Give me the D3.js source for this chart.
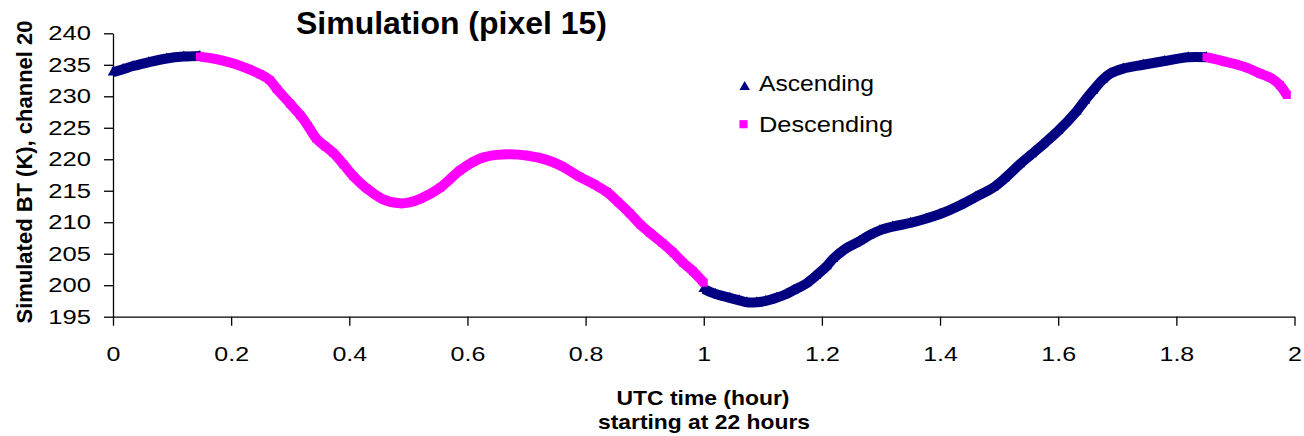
<!DOCTYPE html>
<html>
<head>
<meta charset="utf-8">
<script src="https://cdn.jsdelivr.net/npm/d3@7"></script>
<style>
  body { margin: 0; background: #fff; }
  svg { display: block; }
  text { font-family: "Liberation Sans", Arial, Helvetica, sans-serif; fill: #000; }
</style>
</head>
<body>
<svg id="chart" width="1304" height="436"></svg>
<script>
// Simulated brightness temperature (K), channel 20, pixel 15.
// Time is hours after 22:00 UTC; the orbit pass alternates ascending / descending.

const ascHours1 = [0.000, 0.017, 0.034, 0.060, 0.091, 0.120, 0.147];
const ascBT1    = [233.8, 234.3, 234.8, 235.4, 236.0, 236.3, 236.4];

const descHours1 = [0.147, 0.175, 0.204, 0.230, 0.249, 0.265, 0.277, 0.300, 0.317, 0.330,
                    0.344, 0.360, 0.373, 0.390, 0.407, 0.429, 0.458, 0.486, 0.500, 0.520,
                    0.554, 0.587, 0.610, 0.627, 0.650, 0.672, 0.700, 0.734, 0.760, 0.790,
                    0.815, 0.836, 0.855, 0.875, 0.893, 0.909, 0.930, 0.948, 0.965, 0.982, 1.000];
const descBT1    = [236.3, 235.9, 235.2, 234.3, 233.5, 232.6, 231.2, 228.8, 227.0, 225.3,
                    223.3, 222.0, 221.0, 219.2, 217.3, 215.4, 213.6, 213.0, 213.1, 213.7,
                    215.5, 218.2, 219.6, 220.3, 220.7, 220.8, 220.6, 219.9, 218.9, 217.2,
                    216.0, 214.8, 213.2, 211.4, 209.6, 208.3, 206.7, 205.2, 203.6, 202.2, 200.4];

const ascHours2 = [1.000, 1.020, 1.044, 1.060, 1.073, 1.090, 1.105, 1.123, 1.140, 1.152,
                   1.174, 1.190, 1.208, 1.219, 1.242, 1.264, 1.280, 1.298, 1.320, 1.350,
                   1.377, 1.400, 1.434, 1.460, 1.490, 1.510, 1.535, 1.555, 1.575, 1.600,
                   1.631, 1.645, 1.659, 1.675, 1.688, 1.710, 1.744, 1.780, 1.820, 1.851];
const ascBT2    = [199.4, 198.6, 198.0, 197.6, 197.3, 197.3, 197.5, 198.0, 198.6, 199.2,
                   200.3, 201.5, 203.0, 204.2, 205.9, 207.0, 207.9, 208.7, 209.3, 209.9,
                   210.6, 211.3, 212.7, 214.0, 215.5, 217.0, 219.2, 220.8, 222.4, 224.5,
                   227.6, 229.3, 230.9, 232.6, 233.6, 234.4, 235.0, 235.6, 236.2, 236.2];

const descHours2 = [1.851, 1.870, 1.896, 1.920, 1.942, 1.960, 1.975, 1.987];
const descBT2    = [236.2, 235.8, 235.2, 234.5, 233.6, 232.9, 231.8, 230.2];

const seriesNames = ["Ascending", "Descending"];
const seriesColors = ["#000080", "#ff00ff"];

const xTickValues = [0, 0.2, 0.4, 0.6, 0.8, 1, 1.2, 1.4, 1.6, 1.8, 2];
const xTickLabels = ["0", "0.2", "0.4", "0.6", "0.8", "1", "1.2", "1.4", "1.6", "1.8", "2"];
const yTickValues = [195, 200, 205, 210, 215, 220, 225, 230, 235, 240];
const yTickLabels = ["195", "200", "205", "210", "215", "220", "225", "230", "235", "240"];

const chartTitle = "Simulation (pixel 15)";
const xTitleLines = ["UTC time (hour)", "starting at 22 hours"];
const yTitle = "Simulated BT (K), channel 20";

// ---- layout ----
const svg = d3.select("#chart");
const plot = { left: 113, right: 1294.5, top: 33.3, bottom: 316.7 };

const x = d3.scaleLinear().domain([0, 2]).range([plot.left, plot.right]);
const y = d3.scaleLinear().domain([195, 240]).range([plot.bottom, plot.top]);

// ---- axes ----
const xAxis = d3.axisBottom(x)
  .tickValues(xTickValues)
  .tickFormat((d, i) => xTickLabels[i])
  .tickSize(9).tickSizeOuter(0).tickPadding(21);
const yAxis = d3.axisLeft(y)
  .tickValues(yTickValues)
  .tickFormat((d, i) => yTickLabels[i])
  .tickSize(9).tickSizeOuter(0).tickPadding(13);

const gx = svg.append("g").attr("transform", `translate(0,${plot.bottom})`).call(xAxis);
const gy = svg.append("g").attr("transform", `translate(${plot.left},0)`).call(yAxis);

[gx, gy].forEach(g => {
  g.selectAll("path.domain").attr("stroke", "#000").attr("stroke-width", 1.3);
  g.selectAll(".tick line").attr("stroke", "#000").attr("stroke-width", 1.3);
  g.selectAll(".tick text")
    .attr("font-size", 20)
    .attr("font-family", "'Liberation Sans', Arial, sans-serif")
    .attr("fill", "#000");
});
// the tick numerals are set slightly wide
gx.selectAll(".tick text").each(function () {
  const t = d3.select(this);
  const yy = +t.attr("y");
  t.attr("y", 0).attr("transform", `translate(0,${yy}) scale(1.25,1)`);
});
gy.selectAll(".tick text").each(function () {
  const t = d3.select(this);
  const xx = +t.attr("x");
  t.attr("x", 0).attr("transform", `translate(${xx},0) scale(1.28,1)`);
});

// ---- data bands ----
const line = d3.line()
  .x(d => x(d[0]))
  .y(d => y(d[1]))
  .curve(d3.curveCatmullRom.alpha(0.5));

const segments = [
  { name: seriesNames[0], hours: ascHours1,  bt: ascBT1,  color: seriesColors[0], shape: d3.symbolTriangle, size: 48 },
  { name: seriesNames[0], hours: ascHours2,  bt: ascBT2,  color: seriesColors[0], shape: d3.symbolTriangle, size: 48 },
  { name: seriesNames[1], hours: descHours1, bt: descBT1, color: seriesColors[1], shape: d3.symbolSquare,   size: 64 },
  { name: seriesNames[1], hours: descHours2, bt: descBT2, color: seriesColors[1], shape: d3.symbolSquare,   size: 64 }
];

const gData = svg.append("g");
segments.forEach(s => {
  const pts = s.hours.map((h, i) => [h, s.bt[i]]);
  gData.append("path")
    .attr("d", line(pts))
    .attr("fill", "none")
    .attr("stroke", s.color)
    .attr("stroke-width", 10)
    .attr("stroke-linecap", "butt")
    .attr("stroke-linejoin", "round");
  gData.selectAll(null).data(pts).enter().append("path")
    .attr("transform", d => `translate(${x(d[0])},${y(d[1])})`)
    .attr("d", d3.symbol().type(s.shape).size(s.size))
    .attr("fill", s.color);
});

// ---- title ----
svg.append("text")
  .attr("x", 296).attr("y", 34)
  .attr("font-size", 31).attr("font-weight", "bold")
  .attr("textLength", 311).attr("lengthAdjust", "spacingAndGlyphs")
  .text(chartTitle);

// ---- axis titles ----
svg.append("text")
  .attr("x", 703).attr("y", 405)
  .attr("text-anchor", "middle")
  .attr("font-size", 21).attr("font-weight", "bold")
  .attr("textLength", 173).attr("lengthAdjust", "spacingAndGlyphs")
  .text(xTitleLines[0]);
svg.append("text")
  .attr("x", 704).attr("y", 429)
  .attr("text-anchor", "middle")
  .attr("font-size", 21).attr("font-weight", "bold")
  .attr("textLength", 212).attr("lengthAdjust", "spacingAndGlyphs")
  .text(xTitleLines[1]);

svg.append("text")
  .attr("transform", "translate(31.5,172) rotate(-90)")
  .attr("text-anchor", "middle")
  .attr("font-size", 22).attr("font-weight", "bold")
  .attr("textLength", 303).attr("lengthAdjust", "spacingAndGlyphs")
  .text(yTitle);

// ---- legend ----
const legend = svg.append("g");
const legendRows = [
  { label: seriesNames[0], color: seriesColors[0], shape: d3.symbolTriangle, size: 48, mx: 744.7, my: 87, ty: 91, len: 115 },
  { label: seriesNames[1], color: seriesColors[1], shape: d3.symbolSquare,   size: 66, mx: 743.5, my: 124.2, ty: 131.5, len: 134 }
];
legendRows.forEach(r => {
  legend.append("path")
    .attr("transform", `translate(${r.mx},${r.my})`)
    .attr("d", d3.symbol().type(r.shape).size(r.size))
    .attr("fill", r.color);
  legend.append("text")
    .attr("x", 759).attr("y", r.ty)
    .attr("font-size", 22)
    .attr("textLength", r.len).attr("lengthAdjust", "spacingAndGlyphs")
    .text(r.label);
});
</script>
</body>
</html>
